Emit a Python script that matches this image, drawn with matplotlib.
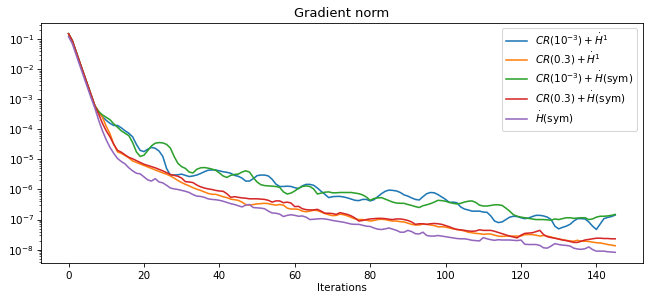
import numpy as np
import matplotlib
matplotlib.use("Agg")
import matplotlib.pyplot as plt

# log10 of the gradient norm, one value per iteration (0..145)
blue_log = [
    -0.82, -1.05, -1.42, -1.78, -2.14, -2.50, -2.86, -3.22, -3.45, -3.58,
    -3.70, -3.80, -3.87, -3.87, -3.95, -4.05, -4.13, -4.25, -4.50, -4.70,
    -4.74, -4.66, -4.60, -4.63, -4.72, -4.90, -5.30, -5.52, -5.52, -5.51,
    -5.49, -5.53, -5.57, -5.55, -5.52, -5.47, -5.41, -5.36, -5.35, -5.35,
    -5.38, -5.41, -5.43, -5.46, -5.53, -5.56, -5.62, -5.72, -5.72, -5.64,
    -5.54, -5.52, -5.52, -5.55, -5.66, -5.82, -5.90, -5.90, -5.89, -5.90,
    -5.94, -5.97, -5.88, -5.83, -5.83, -5.86, -5.95, -6.06, -6.16, -6.27,
    -6.24, -6.23, -6.23, -6.25, -6.28, -6.32, -6.36, -6.37, -6.33, -6.33,
    -6.38, -6.34, -6.24, -6.14, -6.06, -6.02, -6.03, -6.05, -6.10, -6.18,
    -6.22, -6.28, -6.33, -6.35, -6.24, -6.14, -6.10, -6.11, -6.17, -6.25,
    -6.33, -6.43, -6.42, -6.44, -6.58, -6.65, -6.68, -6.72, -6.72, -6.72,
    -6.75, -6.76, -6.88, -7.05, -7.10, -7.08, -7.00, -6.92, -6.89, -6.90,
    -6.94, -6.97, -6.95, -6.90, -6.86, -6.86, -6.88, -6.92, -7.00, -7.22,
    -7.31, -7.26, -7.22, -7.16, -7.05, -6.97, -6.97, -6.98, -7.08, -7.22,
    -7.33, -7.15, -6.97, -6.93, -6.90, -6.85,
]
orange_log = [
    -0.82, -1.05, -1.42, -1.78, -2.14, -2.50, -2.86, -3.22, -3.40, -3.60,
    -3.90, -4.15, -4.50, -4.75, -4.80, -4.87, -4.95, -5.05, -5.10, -5.15,
    -5.20, -5.25, -5.30, -5.35, -5.40, -5.45, -5.49, -5.55, -5.62, -5.70,
    -5.77, -5.83, -5.88, -5.94, -5.99, -6.03, -6.08, -6.13, -6.16, -6.16,
    -6.20, -6.24, -6.27, -6.32, -6.34, -6.36, -6.42, -6.50, -6.52, -6.50,
    -6.48, -6.47, -6.46, -6.47, -6.50, -6.52, -6.50, -6.52, -6.62, -6.65,
    -6.65, -6.66, -6.72, -6.74, -6.72, -6.69, -6.70, -6.75, -6.80, -6.84,
    -6.87, -6.86, -6.82, -6.84, -6.88, -6.93, -6.98, -7.00, -7.00, -7.02,
    -7.05, -7.03, -7.00, -6.99, -7.00, -7.03, -7.05, -7.05, -7.07, -7.08,
    -7.12, -7.16, -7.18, -7.18, -7.15, -7.16, -7.18, -7.20, -7.24, -7.24,
    -7.25, -7.28, -7.31, -7.33, -7.35, -7.38, -7.42, -7.44, -7.46, -7.47,
    -7.49, -7.48, -7.48, -7.52, -7.55, -7.56, -7.55, -7.55, -7.55, -7.55,
    -7.55, -7.50, -7.50, -7.50, -7.52, -7.55, -7.53, -7.55, -7.58, -7.62,
    -7.64, -7.67, -7.69, -7.71, -7.72, -7.69, -7.72, -7.72, -7.73, -7.75,
    -7.77, -7.78, -7.80, -7.83, -7.85, -7.87,
]
green_log = [
    -0.82, -1.05, -1.42, -1.78, -2.14, -2.50, -2.86, -3.22, -3.41, -3.52,
    -3.60, -3.68, -3.82, -3.93, -4.05, -4.13, -4.21, -4.44, -4.75, -4.90,
    -4.86, -4.71, -4.55, -4.46, -4.44, -4.45, -4.50, -4.62, -4.90, -5.13,
    -5.24, -5.30, -5.42, -5.45, -5.33, -5.28, -5.27, -5.29, -5.32, -5.36,
    -5.45, -5.55, -5.60, -5.53, -5.50, -5.49, -5.42, -5.38, -5.42, -5.60,
    -5.75, -5.84, -5.87, -5.88, -5.89, -5.90, -5.93, -6.08, -6.15, -6.12,
    -6.05, -5.96, -5.90, -5.88, -5.90, -5.98, -6.15, -6.12, -6.09, -6.08,
    -6.11, -6.11, -6.10, -6.10, -6.10, -6.10, -6.12, -6.14, -6.18, -6.25,
    -6.36, -6.30, -6.28, -6.27, -6.32, -6.37, -6.42, -6.45, -6.46, -6.46,
    -6.50, -6.53, -6.57, -6.60, -6.54, -6.51, -6.47, -6.42, -6.36, -6.37,
    -6.39, -6.43, -6.46, -6.48, -6.46, -6.42, -6.39, -6.38, -6.43, -6.52,
    -6.55, -6.55, -6.53, -6.51, -6.51, -6.53, -6.62, -6.72, -6.84, -6.89,
    -6.92, -6.94, -6.96, -6.98, -7.00, -7.00, -7.00, -7.01, -7.02, -6.98,
    -7.00, -6.97, -6.94, -6.94, -6.96, -6.95, -6.94, -6.94, -7.00, -6.98,
    -6.92, -6.89, -6.89, -6.88, -6.86, -6.83,
]
red_log = [
    -0.82, -1.05, -1.42, -1.78, -2.14, -2.50, -2.86, -3.22, -3.50, -3.80,
    -4.05, -4.25, -4.50, -4.70, -4.76, -4.85, -4.93, -4.98, -5.04, -5.10,
    -5.16, -5.20, -5.24, -5.28, -5.33, -5.38, -5.44, -5.50, -5.53, -5.56,
    -5.62, -5.74, -5.75, -5.77, -5.85, -5.91, -5.95, -5.98, -6.00, -6.03,
    -6.05, -6.06, -6.14, -6.26, -6.24, -6.26, -6.28, -6.29, -6.31, -6.31,
    -6.31, -6.32, -6.33, -6.36, -6.42, -6.38, -6.38, -6.44, -6.42, -6.45,
    -6.57, -6.56, -6.64, -6.67, -6.68, -6.68, -6.66, -6.72, -6.79, -6.79,
    -6.80, -6.83, -6.77, -6.80, -6.83, -6.88, -6.95, -7.05, -7.03, -7.00,
    -6.98, -6.97, -6.96, -6.96, -6.97, -6.99, -7.00, -6.98, -6.98, -7.00,
    -7.03, -7.08, -7.16, -7.14, -7.14, -7.16, -7.14, -7.13, -7.14, -7.16,
    -7.20, -7.24, -7.29, -7.33, -7.34, -7.36, -7.38, -7.39, -7.38, -7.34,
    -7.36, -7.36, -7.36, -7.39, -7.43, -7.47, -7.51, -7.55, -7.58, -7.61,
    -7.52, -7.46, -7.45, -7.44, -7.40, -7.36, -7.50, -7.57, -7.60, -7.62,
    -7.65, -7.68, -7.70, -7.73, -7.76, -7.76, -7.72, -7.68, -7.66, -7.64,
    -7.62, -7.62, -7.63, -7.63, -7.64, -7.64,
]
purple_log = [
    -0.92, -1.15, -1.52, -1.88, -2.24, -2.60, -2.96, -3.30, -3.70, -4.05,
    -4.35, -4.60, -4.80, -4.97, -5.07, -5.15, -5.28, -5.38, -5.46, -5.48,
    -5.58, -5.68, -5.72, -5.64, -5.75, -5.78, -5.86, -5.95, -5.98, -6.00,
    -6.03, -6.06, -6.10, -6.17, -6.22, -6.23, -6.26, -6.31, -6.33, -6.34,
    -6.36, -6.39, -6.43, -6.47, -6.50, -6.54, -6.58, -6.52, -6.50, -6.60,
    -6.61, -6.62, -6.64, -6.72, -6.78, -6.79, -6.82, -6.90, -6.86, -6.84,
    -6.86, -6.89, -6.88, -6.92, -7.00, -6.99, -6.98, -6.97, -6.98, -7.00,
    -7.03, -7.05, -7.07, -7.09, -7.12, -7.15, -7.16, -7.16, -7.19, -7.22,
    -7.23, -7.28, -7.32, -7.33, -7.31, -7.28, -7.32, -7.36, -7.42, -7.42,
    -7.36, -7.40, -7.47, -7.48, -7.42, -7.53, -7.55, -7.55, -7.53, -7.55,
    -7.57, -7.59, -7.61, -7.63, -7.64, -7.64, -7.66, -7.69, -7.70, -7.71,
    -7.60, -7.64, -7.67, -7.69, -7.67, -7.68, -7.68, -7.68, -7.69, -7.70,
    -7.68, -7.82, -7.83, -7.83, -7.83, -7.86, -7.94, -7.95, -7.88, -7.80,
    -7.83, -7.85, -7.86, -7.88, -7.95, -7.98, -7.99, -7.97, -7.91, -8.00,
    -8.05, -8.05, -8.05, -8.07, -8.08, -8.09,
]

labels = [
    r'$CR(10^{-3}) + \dot{H}^1$',
    r'$CR(0.3) + \dot{H}^1$',
    r'$CR(10^{-3}) + \dot{H}$(sym)',
    r'$CR(0.3) + \dot{H}$(sym)',
    r'$\dot{H}$(sym)',
]
series = [blue_log, orange_log, green_log, red_log, purple_log]

# reference looks like a default-style figure rendered at 75 dpi
fig = plt.figure(figsize=(654 / 75, 304 / 75), dpi=75)
ax = fig.add_axes([0.063, 0.134, 0.9195, 0.791])

for vals, lab in zip(series, labels):
    y = 10.0 ** np.array(vals)
    ax.plot(np.arange(len(y)), y, label=lab)

ax.set_yscale('log')
ax.set_title('Gradient norm', fontsize=12.5)
ax.set_xlabel('Iterations', labelpad=2)
ax.set_xticks([0, 20, 40, 60, 80, 100, 120, 140])
ax.legend(loc='upper right', labelspacing=0.25)

fig.savefig('out.png', dpi=75)
